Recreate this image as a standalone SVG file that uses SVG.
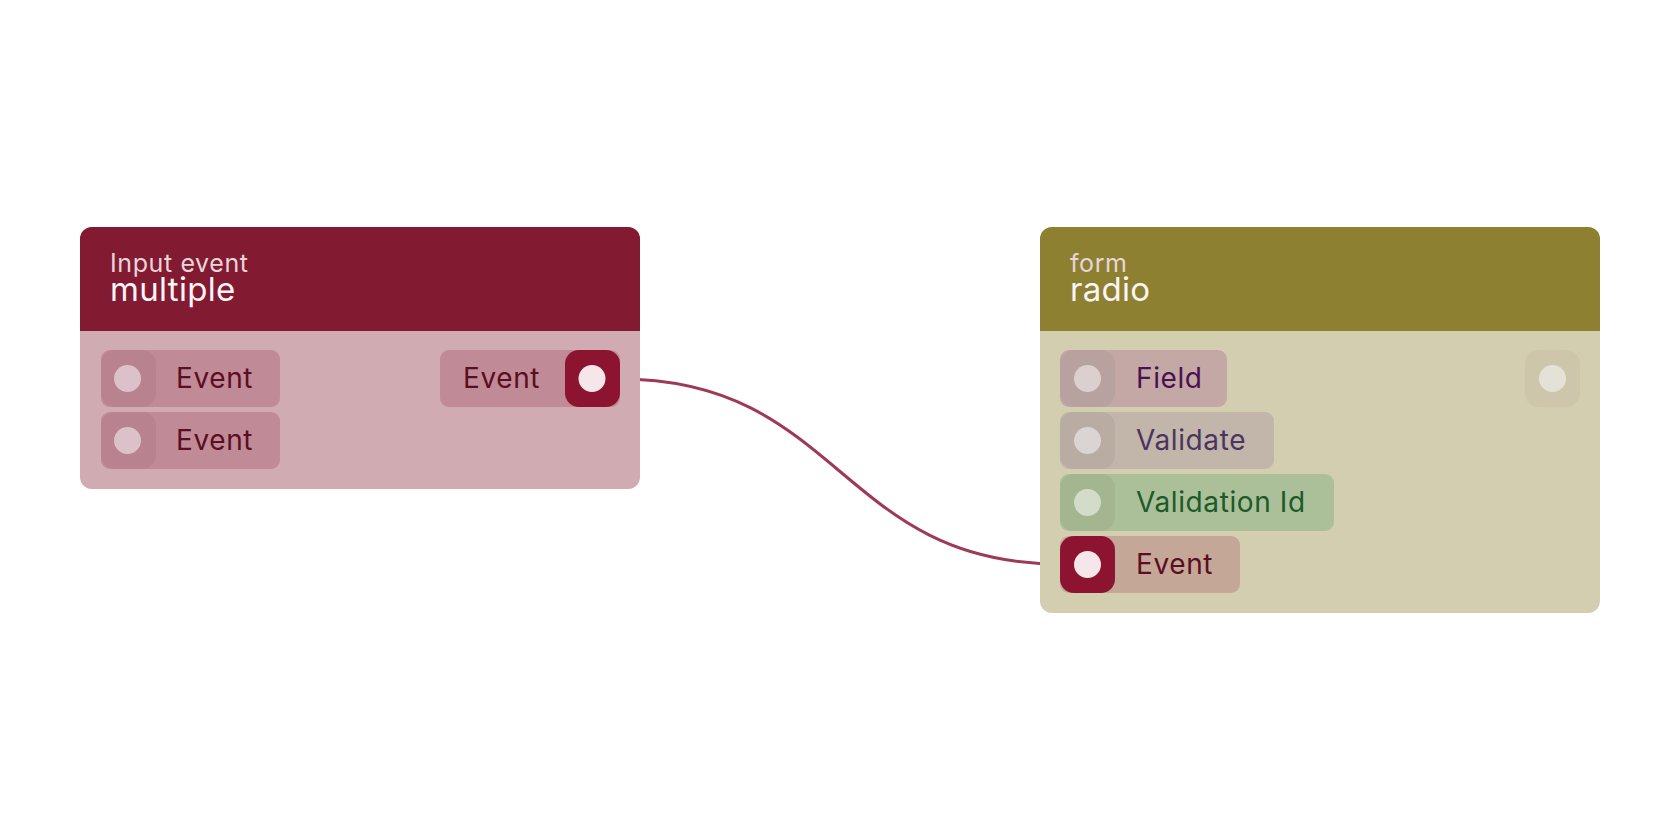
<svg xmlns="http://www.w3.org/2000/svg" width="1680" height="840" viewBox="0 0 1680 840">
<style>
text{font-family:Inter,"Noto Sans","Liberation Sans",sans-serif}
.sub{font-size:25px;fill:#e6d6da;letter-spacing:0.6px}
.ttl{font-size:33px;fill:#fbf5f6;letter-spacing:0.3px}
.lbl{font-size:28px;letter-spacing:0.6px}
</style>
<rect width="1680" height="840" fill="#fff"/>
<g id="connectors">
<path d="M620 379 C840 379 840 564 1060 564" fill="none" stroke="#9e3a56" stroke-width="3"/>
</g>
<g id="node-multiple">
<rect x="80" y="227" width="560" height="262" rx="12" fill="#d0abb2"/>
<path d="M80 331 V239 a12 12 0 0 1 12 -12 H628 a12 12 0 0 1 12 12 V331 Z" fill="#821a32"/>
<text class="sub" x="110" y="272">Input event</text>
<text class="ttl" x="110" y="301">multiple</text>
<rect x="101" y="350" width="179" height="57" rx="9" fill="#c08a96"/>
<rect x="101" y="350" width="55" height="57" rx="14" fill="#b8838f"/>
<circle cx="127.5" cy="378.5" r="13.5" fill="#dcc2c8"/>
<text class="lbl" x="176" y="388" fill="#5a0e22">Event</text>
<rect x="101" y="412" width="179" height="57" rx="9" fill="#c08a96"/>
<rect x="101" y="412" width="55" height="57" rx="14" fill="#b8838f"/>
<circle cx="127.5" cy="440.5" r="13.5" fill="#dcc2c8"/>
<text class="lbl" x="176" y="450" fill="#5a0e22">Event</text>
<rect x="440" y="350" width="180" height="57" rx="9" fill="#c08a96"/>
<rect x="565" y="350" width="55" height="57" rx="14" fill="#8c1431"/>
<circle cx="592" cy="378.5" r="13.5" fill="#f5e6ea"/>
<text class="lbl" x="463" y="388" fill="#5a0e22">Event</text>
</g>
<g id="node-radio">
<rect x="1040" y="227" width="560" height="386" rx="12" fill="#d4ceb0"/>
<path d="M1040 331 V239 a12 12 0 0 1 12 -12 H1588 a12 12 0 0 1 12 12 V331 Z" fill="#8e8031"/>
<text class="sub" x="1070" y="272">form</text>
<text class="ttl" x="1070" y="301">radio</text>
<rect x="1060" y="350" width="167" height="57" rx="9" fill="#c3a8a6"/>
<rect x="1060" y="350" width="55" height="57" rx="14" fill="#b8a29f"/>
<circle cx="1087.5" cy="378.5" r="13.5" fill="#dcd0cf"/>
<text class="lbl" x="1136" y="388" fill="#4a1050">Field</text>
<rect x="1060" y="412" width="214" height="57" rx="9" fill="#c2b5aa"/>
<rect x="1060" y="412" width="55" height="57" rx="14" fill="#b9ada3"/>
<circle cx="1087.5" cy="440.5" r="13.5" fill="#dcd4d2"/>
<text class="lbl" x="1136" y="450" fill="#4a3560">Validate</text>
<rect x="1060" y="474" width="274" height="57" rx="9" fill="#abbf98"/>
<rect x="1060" y="474" width="55" height="57" rx="14" fill="#a4b690"/>
<circle cx="1087.5" cy="502.5" r="13.5" fill="#d3dcc9"/>
<text class="lbl" x="1136" y="512" fill="#1d5a2a">Validation Id</text>
<rect x="1060" y="536" width="180" height="57" rx="9" fill="#c4a796"/>
<rect x="1060" y="536" width="55" height="57" rx="14" fill="#8c1431"/>
<circle cx="1087.5" cy="564.5" r="13.5" fill="#f5e6ea"/>
<text class="lbl" x="1136" y="574" fill="#5a0e22">Event</text>
<rect x="1525" y="350" width="55" height="57" rx="14" fill="#cdc6ab"/>
<circle cx="1552.5" cy="378.5" r="13.5" fill="#e4e2d6"/>
</g>
</svg>
